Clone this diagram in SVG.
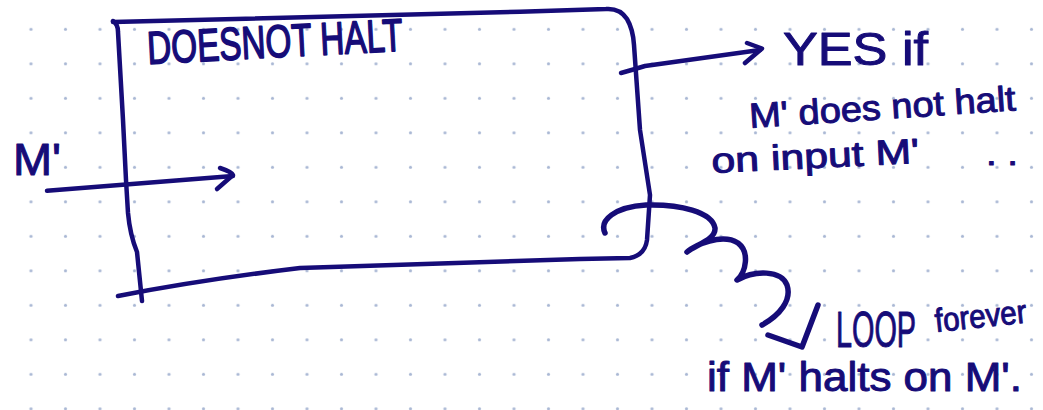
<svg xmlns="http://www.w3.org/2000/svg" width="1043" height="410" viewBox="0 0 1043 410">
  <style>
    .ink { fill: none; stroke: #160c78; stroke-width: 4.5; stroke-linecap: round; stroke-linejoin: round; }
    .thick { stroke-width: 5.5; }
    .txt { font-family: "Liberation Sans", Arial, sans-serif; fill: #160c78; stroke: #160c78; stroke-width: 1; stroke-linejoin: round; }
    .bold { stroke-width: 1.6; }
  </style>
  <defs>
    <pattern id="dots" patternUnits="userSpaceOnUse" x="13.75" y="12.05" width="34.5" height="34.5">
      <circle cx="17.25" cy="17.25" r="1.6" fill="#a9b7d4"/>
    </pattern>
  </defs>
  <rect width="1043" height="410" fill="#ffffff"/>
  <rect width="1043" height="410" fill="url(#dots)"/>

  <g id="doesnot-halt">
    <path class="ink" d="M113,22 L520,11.7 L606,9 Q620,8 627,19 Q633,29 634,45 L640,130 L650,195 L647,240 Q645,255 630,258 L580,259 L456,263 L300,268 Q200,280 118,296"/>
    <path class="ink" d="M113,21 Q118,24 118,32 L123,120 L126,180 L128,213 Q130,235 137,252 L142,301"/>
    <text class="txt bold" x="148" y="64" font-size="46" textLength="256" lengthAdjust="spacingAndGlyphs" transform="rotate(-3 148 64)">DOESNOT HALT</text>
  </g>

  <g id="input-label">
    <text class="txt" x="13" y="175" font-size="44" textLength="48" lengthAdjust="spacingAndGlyphs">M'</text>
  </g>

  <g id="yes-label">
    <text class="txt" x="783" y="65" font-size="46" textLength="145" lengthAdjust="spacingAndGlyphs">YES  if</text>
    <text class="txt" x="750" y="128" font-size="35" textLength="267" lengthAdjust="spacingAndGlyphs" transform="rotate(-3.8 750 128)">M' does not halt</text>
    <text class="txt" x="712" y="173" font-size="35" textLength="208" lengthAdjust="spacingAndGlyphs" transform="rotate(-2.8 712 173)">on input M'</text>
    <text class="txt" x="986" y="165" font-size="34" textLength="32" lengthAdjust="spacingAndGlyphs">. .</text>
  </g>

  <g id="loop-label">
    <text class="txt" x="836" y="347" font-size="50" textLength="80" lengthAdjust="spacingAndGlyphs">LOOP</text>
    <text class="txt" x="936" y="332" font-size="33" textLength="92" lengthAdjust="spacingAndGlyphs" transform="rotate(-6 936 332)">forever</text>
    <text class="txt" x="707" y="391" font-size="41" textLength="315" lengthAdjust="spacingAndGlyphs">if M' halts on M'.</text>
  </g>

  <g id="connectors">
    <path class="ink" d="M47,190.7 L233,176"/>
    <path class="ink" d="M220,168 Q232,172 233,175 L217,189"/>
    <path class="ink" d="M621,73 Q632,70 645,66 L760,50"/>
    <path class="ink" d="M747,43 L762,48.5 L745,63"/>
    <path class="ink thick" d="M605,233 C599,220 615,207 646,205 C680,204 712,212 715,228 C716,240 695,245 687,252 C695,245 722,233 738,243 C750,252 746,272 737,280 C755,270 781,270 787,285 C792,300 780,315 762,325"/>
    <path class="ink thick" d="M768,335 L802,347 L818,305"/>
  </g>
</svg>
